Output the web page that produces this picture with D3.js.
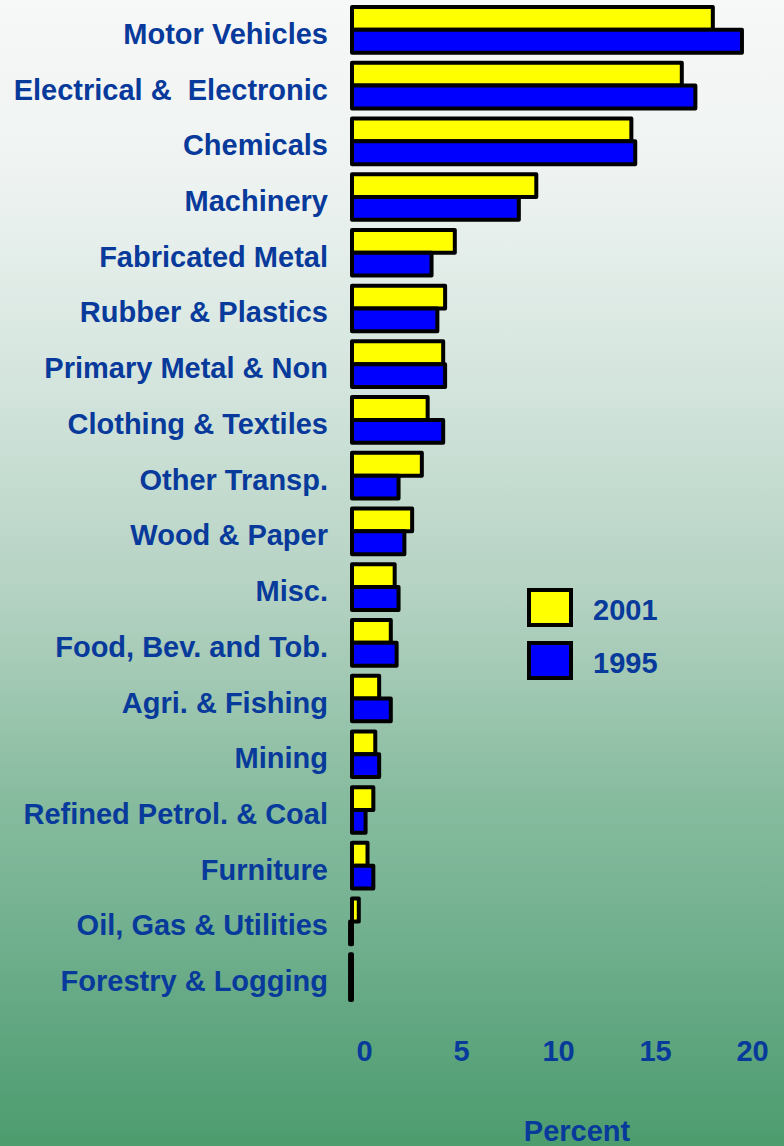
<!DOCTYPE html>
<html>
<head>
<meta charset="utf-8">
<script src="https://cdn.jsdelivr.net/npm/d3@7"></script>
<style>
	html, body { margin: 0; padding: 0; }
	body { width: 784px; height: 1146px; overflow: hidden; }
	text { font-family: "Liberation Sans", Arial, sans-serif; font-weight: bold; fill: #073a9b; white-space: pre; }
</style>
</head>
<body>
<div id="chart"></div>
<script>
var categories = ["Motor Vehicles", "Electrical &  Electronic", "Chemicals", "Machinery",
	"Fabricated Metal", "Rubber & Plastics", "Primary Metal & Non", "Clothing & Textiles",
	"Other Transp.", "Wood & Paper", "Misc.", "Food, Bev. and Tob.", "Agri. & Fishing",
	"Mining", "Refined Petrol. & Coal", "Furniture", "Oil, Gas & Utilities", "Forestry & Logging"];
var values2001 = [18.6, 17.0, 14.4, 9.5, 5.3, 4.8, 4.7, 3.9, 3.6, 3.1, 2.2, 2.0, 1.4, 1.2, 1.1, 0.8, 0.35, -0.1];
var values1995 = [20.1, 17.7, 14.6, 8.6, 4.1, 4.4, 4.8, 4.7, 2.4, 2.7, 2.4, 2.3, 2.0, 1.4, 0.7, 1.1, -0.1, -0.1];
var seriesNames = ["2001", "1995"];
var seriesColors = ["#ffff00", "#0000ff"];
var tickValues = [0, 5, 10, 15, 20];
var axisTitle = "Percent";

var width = 784, height = 1146;

var svg = d3.select("#chart").append("svg")
	.attr("width", width)
	.attr("height", height);

// background gradient, white at the top to green at the bottom
var grad = svg.append("defs").append("linearGradient")
	.attr("id", "bg").attr("x1", 0).attr("y1", 0).attr("x2", 0).attr("y2", 1);
[[0, "#f7f8f8"], [0.15, "#eef3f1"], [0.32, "#d6e6df"], [0.52, "#b4d2c2"],
 [0.70, "#86bb9e"], [0.77, "#7ab596"], [0.88, "#64a883"], [1, "#4c9c6e"]]
	.forEach(function (s) { grad.append("stop").attr("offset", s[0]).attr("stop-color", s[1]); });
svg.append("rect").attr("width", width).attr("height", height).attr("fill", "url(#bg)");

var x = d3.scaleLinear().domain([0, 20]).range([352, 740]);
var y = d3.scaleBand().domain(categories).range([2, 1005]).paddingInner(0.18).paddingOuter(0.09);
var half = y.bandwidth() / 2;

var rows = categories.map(function (c, i) {
	return {name: c, vals: [values2001[i], values1995[i]]};
});

var group = svg.selectAll(".row")
	.data(rows)
	.enter().append("g")
	.attr("class", "row")
	.attr("transform", function (d) { return "translate(0," + y(d.name) + ")"; });

group.selectAll("rect")
	.data(function (d) { return d.vals; })
	.enter().append("rect")
	.attr("x", function (v) { return x(Math.min(0, v)); })
	.attr("y", function (v, i) { return i * half; })
	.attr("width", function (v) { return Math.abs(x(v) - x(0)); })
	.attr("height", half)
	.style("fill", function (v, i) { return seriesColors[i]; })
	.style("stroke", "#000")
	.style("stroke-width", 4)
	.style("stroke-linejoin", "round");

group.append("text")
	.attr("x", 328)
	.attr("y", half + 14)
	.attr("text-anchor", "end")
	.attr("xml:space", "preserve")
	.style("font-size", "29px")
	.text(function (d) { return d.name; });

// x axis: labels only, no line or ticks
var axis = svg.append("g")
	.attr("transform", "translate(12,1061)")
	.call(d3.axisBottom(x).tickValues(tickValues).tickSize(0).tickPadding(0));
axis.select(".domain").remove();
axis.selectAll("text")
	.attr("dy", 0)
	.style("font-size", "29px")
	.style("font-family", "'Liberation Sans', Arial, sans-serif")
	.attr("fill", "#073a9b");

svg.append("text")
	.attr("x", 577)
	.attr("y", 1141)
	.attr("text-anchor", "middle")
	.style("font-size", "29px")
	.text(axisTitle);

// legend
var legend = svg.selectAll(".legend")
	.data(seriesNames)
	.enter().append("g")
	.attr("class", "legend")
	.attr("transform", function (d, i) { return "translate(529," + (590 + i * 53) + ")"; });

legend.append("rect")
	.attr("width", 42)
	.attr("height", 35)
	.style("fill", function (d, i) { return seriesColors[i]; })
	.style("stroke", "#000")
	.style("stroke-width", 4);

legend.append("text")
	.attr("x", 64)
	.attr("y", 30)
	.style("font-size", "29px")
	.text(function (d) { return d; });
</script>
</body>
</html>
